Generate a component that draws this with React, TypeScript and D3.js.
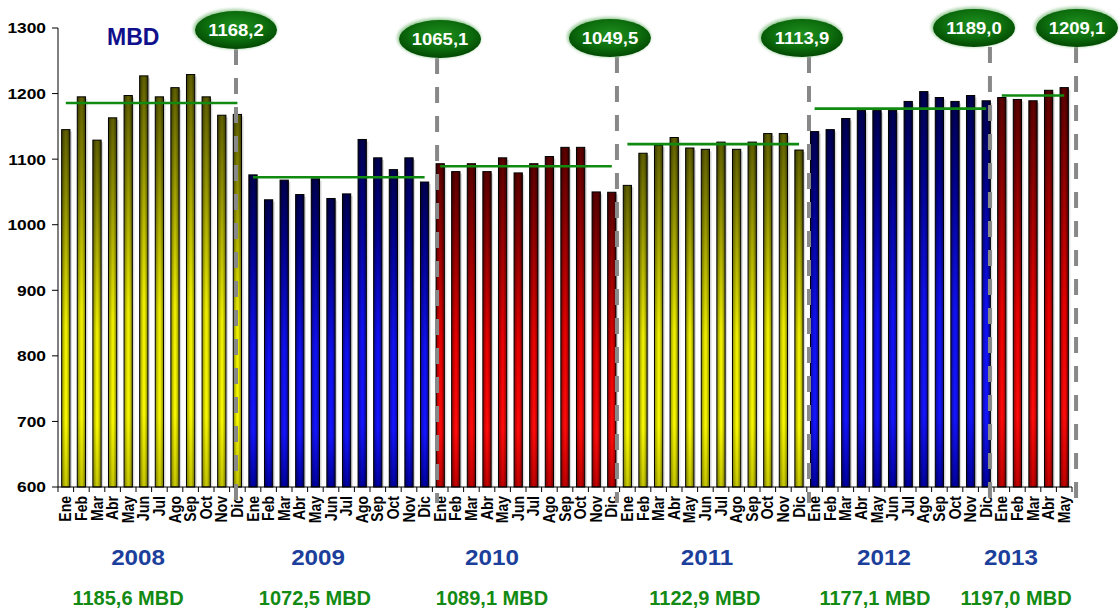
import React from "react";
import * as d3 from "d3";

const months = ["Ene", "Feb", "Mar", "Abr", "May", "Jun", "Jul", "Ago", "Sep", "Oct", "Nov", "Dic"];
const years = ["2008", "2009", "2010", "2011", "2012", "2013"];
const v2008 = [1145, 1195, 1129, 1163, 1197, 1227, 1195, 1209, 1229, 1195, 1167, 1168.2];
const v2009 = [1076, 1038, 1068, 1046, 1070, 1040, 1047, 1130, 1102, 1084, 1102, 1065.1];
const v2010 = [1093, 1081, 1093, 1081, 1102, 1079, 1093, 1104, 1118, 1118, 1050, 1049.5];
const v2011 = [1060, 1109, 1121, 1133, 1117, 1115, 1126, 1115, 1126, 1139, 1139, 1113.9];
const v2012 = [1142, 1145, 1162, 1174, 1174, 1174, 1188, 1203, 1194, 1188, 1197, 1189.0];
const v2013 = [1194, 1191, 1189, 1205, 1209.1];
const yearValues = [v2008, v2009, v2010, v2011, v2012, v2013];
const yearAverages = [1185.6, 1072.5, 1089.1, 1122.9, 1177.1, 1197.0];
const averageLabels = ["1185,6 MBD", "1072,5 MBD", "1089,1 MBD", "1122,9 MBD", "1177,1 MBD", "1197,0 MBD"];
const markerLabels = ["1168,2", "1065,1", "1049,5", "1113,9", "1189,0", "1209,1"];
const yTicks = [600, 700, 800, 900, 1000, 1100, 1200, 1300];
const unitLabel = "MBD";

// layout (positions in month-index units, not data)
const yearColorKeys = ["y", "b", "r", "y", "b", "r"];
const markerLineT = [10.91, 23.8, 35.33, 47.64, 59.24, 64.76];
const markerEllipseT = [10.91, 23.99, 34.88, 47.19, 58.22, 64.82];
const markerEllipseY = [30, 39, 38, 38, 28, 28];
const yearLabelT = [4.63, 16.17, 27.32, 41.1, 52.45, 60.59];
const avgLabelT = [3.99, 15.97, 27.32, 40.97, 51.87, 60.91];

const W = 1120;
const H = 611;
const X0 = 58;
const X1 = 1072;
const YTOP = 28;
const YBOT = 487;
const SX = 1.12;
const FONT = "'Liberation Sans', Arial, Helvetica, sans-serif";

const palettes: Record<string, string[]> = {
  y: ["#5e5e00", "#8e8e00", "#ecec00", "#f6f600", "#c4c400"],
  b: ["#000050", "#00008c", "#1010f4", "#1414ff", "#0000a0"],
  r: ["#5a0000", "#8a0000", "#e80000", "#ff0a0a", "#c00000"],
};

type Bar = { key: string; idx: number; month: string; value: number; year: number; color: string };

export default function App() {
  const bars: Bar[] = [];
  yearValues.forEach((vals, yi) => {
    vals.forEach((v, mi) => {
      bars.push({
        key: `${years[yi]}-${months[mi]}`,
        idx: bars.length,
        month: months[mi],
        value: v,
        year: yi,
        color: yearColorKeys[yi],
      });
    });
  });
  const n = bars.length;

  const x = d3
    .scaleBand<number>()
    .domain(d3.range(n))
    .range([X0, X1])
    .paddingInner(0.47)
    .paddingOuter(0.235);
  const xt = d3.scaleLinear().domain([0, n]).range([X0, X1]);
  const cx = (t: number) => xt(t + 0.5);
  const y = d3.scaleLinear().domain([600, 1300]).range([YBOT, YTOP]);
  const bw = x.bandwidth();

  const yearStart: number[] = [];
  let acc = 0;
  yearValues.forEach((v) => {
    yearStart.push(acc);
    acc += v.length;
  });

  return (
    <svg
      width={W}
      height={H}
      style={{ position: "absolute", left: 0, top: 0, display: "block", background: "#fff" }}
      fontFamily={FONT}
    >
      <defs>
        {Object.entries(palettes).map(([k, c]) => (
          <linearGradient key={k} id={`grad-${k}`} x1="0" y1="0" x2="0" y2="1">
            <stop offset="0" stopColor={c[0]} />
            <stop offset="0.2" stopColor={c[1]} />
            <stop offset="0.55" stopColor={c[2]} />
            <stop offset="0.82" stopColor={c[3]} />
            <stop offset="1" stopColor={c[4]} />
          </linearGradient>
        ))}
        <linearGradient id="shade" x1="0" y1="0" x2="1" y2="0">
          <stop offset="0" stopColor="#000" stopOpacity="0.4" />
          <stop offset="0.45" stopColor="#000" stopOpacity="0" />
          <stop offset="0.6" stopColor="#000" stopOpacity="0" />
          <stop offset="1" stopColor="#000" stopOpacity="0.45" />
        </linearGradient>
        <radialGradient id="ellGrad" cx="50%" cy="40%" r="60%">
          <stop offset="0" stopColor="#1f8f1f" />
          <stop offset="0.6" stopColor="#0d6e0d" />
          <stop offset="1" stopColor="#034803" />
        </radialGradient>
        <filter id="soft" x="-20%" y="-20%" width="140%" height="140%">
          <feGaussianBlur stdDeviation="1.5" />
        </filter>
      </defs>

      {/* y axis */}
      <line x1={X0} x2={X0} y1={YTOP} y2={YBOT} stroke="#000" strokeWidth={1} />
      {yTicks.map((t) => (
        <g key={t}>
          <line x1={X0 - 6} x2={X0} y1={y(t)} y2={y(t)} stroke="#000" strokeWidth={1} />
          <text
            transform={`translate(${X0 - 12},${y(t)}) scale(${SX},1)`}
            dy="0.35em"
            textAnchor="end"
            fontSize={15.5}
            fontWeight="bold"
            fill="#000"
          >
            {t}
          </text>
        </g>
      ))}

      {/* bars */}
      {bars.map((b) => {
        const bx = x(b.idx)!;
        const by = y(b.value);
        const bh = YBOT - by;
        return (
          <g key={b.key}>
            <rect x={bx + 2} y={by + 2} width={bw} height={bh - 2} fill="#000" opacity={0.15} />
            <rect x={bx} y={by} width={bw} height={bh} fill={`url(#grad-${b.color})`} />
            <rect x={bx} y={by} width={bw} height={bh} fill="url(#shade)" stroke="#000" strokeWidth={1} />
          </g>
        );
      })}

      {/* x axis */}
      <line x1={X0} x2={X1} y1={YBOT} y2={YBOT} stroke="#000" strokeWidth={1} />
      {d3.range(n + 1).map((i) => (
        <line key={`t${i}`} x1={xt(i)} x2={xt(i)} y1={YBOT} y2={YBOT + 5} stroke="#000" strokeWidth={1} />
      ))}
      {bars.map((b) => {
        const c = x(b.idx)! + bw / 2;
        return (
          <text
            key={`l${b.key}`}
            transform={`translate(${c},${YBOT + 9}) rotate(-90) scale(1,${SX})`}
            dy="0.36em"
            textAnchor="end"
            fontSize={14}
            fontWeight="bold"
            fill="#000"
          >
            {b.month}
          </text>
        );
      })}

      {/* average lines */}
      {yearAverages.map((a, yi) => {
        const s = yearStart[yi];
        const e = s + yearValues[yi].length - 1;
        return (
          <line
            key={`avg${yi}`}
            x1={cx(s)}
            x2={cx(e)}
            y1={y(a)}
            y2={y(a)}
            stroke="#118a11"
            strokeWidth={2.6}
          />
        );
      })}

      {/* markers */}
      {markerLabels.map((lab, i) => {
        const lx = cx(markerLineT[i]);
        const ex = cx(markerEllipseT[i]);
        const ey = markerEllipseY[i];
        return (
          <g key={`m${i}`}>
            <line
              x1={lx}
              x2={lx}
              y1={ey + 19}
              y2={503}
              stroke="#888"
              strokeWidth={4}
              strokeDasharray="16 13"
            />
            <ellipse cx={ex - 1} cy={ey - 1} rx={42} ry={20} fill="#9fcf9f" filter="url(#soft)" />
            <ellipse cx={ex} cy={ey} rx={41} ry={19} fill="url(#ellGrad)" />
            <text
              transform={`translate(${ex},${ey}) scale(${SX},1)`}
              dy="0.36em"
              textAnchor="middle"
              fontSize={16.5}
              fontWeight="bold"
              fill="#fff"
            >
              {lab}
            </text>
          </g>
        );
      })}

      {/* unit */}
      <text x={107} y={45} fontSize={23} fontWeight="bold" fill="#10108c">
        {unitLabel}
      </text>

      {/* year labels */}
      {years.map((yr, i) => (
        <text
          key={`yr${yr}`}
          transform={`translate(${cx(yearLabelT[i])},565) scale(1.1,1)`}
          textAnchor="middle"
          fontSize={22}
          fontWeight="bold"
          fill="#1c3f9c"
        >
          {yr}
        </text>
      ))}
      {averageLabels.map((al, i) => (
        <text
          key={`al${i}`}
          x={cx(avgLabelT[i])}
          y={605}
          textAnchor="middle"
          fontSize={20}
          fontWeight="bold"
          fill="#138a13"
        >
          {al}
        </text>
      ))}
    </svg>
  );
}
